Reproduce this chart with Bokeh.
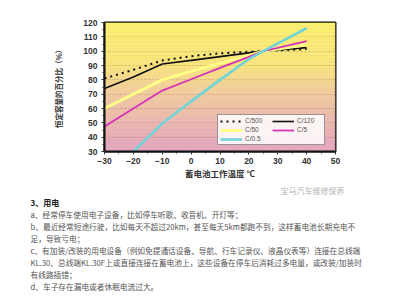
from bokeh.plotting import figure
from bokeh.models import Range1d, SingleIntervalTicker, Legend, LegendItem, Title
from bokeh.embed import file_html
from bokeh.resources import INLINE
import numpy as np

# ---------------- data ----------------
temps = [-30, -20, -10, 0, 10, 20, 25, 30, 40]
c500 = [81, 87, 93.5, 96.5, 98.5, 99.6, 100, 100.5, 101.5]
c120 = [74, 82, 91, 93.6, 96.2, 98.8, 100, 100.8, 102.5]
c50 = [60, 70, 80, 86, 91.5, 97, 100, 101.5, 104.5]
c5 = [47.5, 60, 72.5, 80.4, 88.3, 96, 100, 102.3, 107]
temps_05 = [-20, -10, 0, 10, 20, 25, 30, 40]
c05 = [30, 49.5, 65, 80, 94.5, 100, 105.5, 116]

series_names = ["C/500", "C/120", "C/50", "C/5", "C/0.5"]
x_title = "蓄电池工作温度 ℃"
y_title = "恒定容量的百分比（%）"
watermark_chart = "宝马汽车维修保养"

heading = "3、用电"
body_lines = [
    "a、经常停车使用电子设备，比如停车听歌、收音机、开灯等；",
    "b、最近经常短途行驶，比如每天不超过20km，甚至每天5km都跑不到，这样蓄电池长期充电不",
    "足，导致亏电；",
    "c、有加装/改装的用电设备（例如免提通话设备、导航、行车记录仪、液晶仪表等）连接在总线端",
    "KL.30、总线端KL.30F上或直接连接在蓄电池上，这些设备在停车后消耗过多电量，或改装/加装时",
    "有线路插错；",
    "d、车子存在漏电或者休眠电流过大。",
]

# ---------------- figure ----------------
XMIN, XMAX, YMIN, YMAX = -30, 50, 30, 120
FRAME_L = 104
p = figure(width=393, height=300, x_range=Range1d(XMIN, XMAX), y_range=Range1d(YMIN, YMAX),
           output_backend="svg", toolbar_location=None,
           min_border_left=FRAME_L, min_border_right=58, min_border_top=22, min_border_bottom=149)
p.background_fill_color = "#F0C8A0"
p.border_fill_color = "white"

# gradient background (yellow top -> pink bottom)
stops_v = [30, 70, 90, 120]
stops_c = [(226, 160, 196), (240, 202, 160), (249, 230, 124), (252, 244, 108)]
edges = np.linspace(YMIN, YMAX, 91)
cols = []
for lo, hi in zip(edges[:-1], edges[1:]):
    m = (lo + hi) / 2
    rgb = [int(round(np.interp(m, stops_v, [c[k] for c in stops_c]))) for k in range(3)]
    cols.append("#%02x%02x%02x" % tuple(rgb))
p.quad(left=XMIN, right=XMAX, bottom=edges[:-1], top=edges[1:], fill_color=cols, line_color=None)

p.xgrid.visible = False
p.ygrid.grid_line_color = "#3a2818"
p.ygrid.grid_line_dash = "2 2"
p.ygrid.grid_line_width = 1

r500 = p.line(temps, c500, line_color="#111111", line_width=2, line_dash="2 4")
r120 = p.line(temps, c120, line_color="#111111", line_width=1.6)
r50 = p.line(temps, c50, line_color="#FFFF88", line_width=3)
r5 = p.line(temps, c5, line_color="#D633B8", line_width=1.8)
r05 = p.line(temps_05, c05, line_color="#70D4D8", line_width=2.6)

p.outline_line_color = "#111111"
p.outline_line_width = 2

for ax in (p.xaxis[0], p.yaxis[0]):
    ax.axis_line_color = "#111111"
    ax.axis_line_width = 2
    ax.major_tick_line_color = "#333333"
    ax.minor_tick_line_color = "#333333"
    ax.major_tick_in = 0
    ax.major_tick_out = 3
    ax.minor_tick_in = 0
    ax.minor_tick_out = 2
    ax.major_label_text_font = "Liberation Sans"
    ax.major_label_text_font_style = "bold"
    ax.major_label_text_font_size = "8.5px"
    ax.major_label_text_color = "#333333"
    ax.axis_label_text_font = "Noto Sans CJK SC"
    ax.axis_label_text_font_style = "bold"
    ax.axis_label_text_color = "#333333"

p.xaxis.ticker = SingleIntervalTicker(interval=10, num_minor_ticks=2)
p.yaxis.ticker = SingleIntervalTicker(interval=10, num_minor_ticks=2)
p.xaxis.major_label_standoff = 3
p.xaxis.axis_label = x_title
p.xaxis.axis_label_text_font_size = "8.5px"
p.xaxis.axis_label_standoff = 0
p.yaxis.major_label_standoff = 4
p.yaxis.axis_label = y_title
p.yaxis.axis_label_text_font_size = "7.5px"
p.yaxis.axis_label_standoff = 16

renderers = [r500, r120, r50, r5, r05]
legend = Legend(items=[LegendItem(label=n, renderers=[r]) for n, r in zip(series_names, renderers)],
                location=(113, 6), orientation="horizontal", ncols=2,
                label_text_font="Liberation Sans", label_text_font_size="6.5px",
                label_text_color="#555555", glyph_width=22, glyph_height=6, label_height=6,
                label_width=25, label_standoff=3, spacing=2, padding=2, margin=0,
                border_line_color="#333333", border_line_width=1,
                background_fill_color="white", background_fill_alpha=0.85)
p.add_layout(legend)

# ---------------- text block below the chart ----------------
TEXT_X = 30
p.add_layout(Title(text=watermark_chart, align="left", offset=280 - FRAME_L, standoff=1.8,
                   text_font="Noto Sans CJK SC", text_font_size="8px",
                   text_font_style="normal", text_color="#B4B4B4"), "below")
p.add_layout(Title(text=heading, align="left", offset=TEXT_X - FRAME_L, standoff=-1.8,
                   text_font="Noto Sans CJK SC", text_font_size="8px", text_font_style="bold",
                   text_color="#222222"), "below")
for line in body_lines:
    p.add_layout(Title(text=line, align="left", offset=TEXT_X - FRAME_L, standoff=-1.4,
                       text_font="Noto Sans CJK SC", text_font_size="7.7px",
                       text_font_style="normal", text_color="#555555"), "below")

open("out.html", "w").write(file_html(p, INLINE))
